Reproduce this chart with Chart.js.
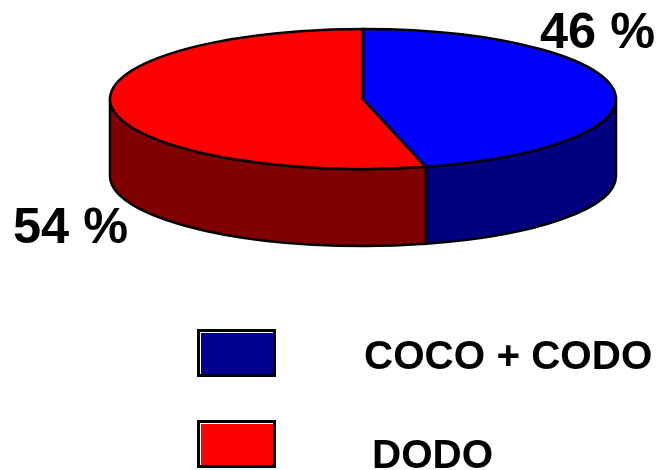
<!DOCTYPE html>
<html>
<head>
<meta charset="utf-8">
<title>COCO + CODO / DODO</title>
<script src="https://cdn.jsdelivr.net/npm/chart.js@4"></script>
<style>
    html, body { margin: 0; padding: 0; background: #fff; }
    #wrap { position: relative; width: 658px; height: 470px; }
    canvas { display: block; }
</style>
</head>
<body>
<div id="wrap"><canvas id="grafico" width="658" height="470"></canvas></div>
<script>
const categorias = ['COCO + CODO', 'DODO'];
const valores = [46, 54];
const coresTopo = ['#0000ff', '#ff0000'];
const coresLado = ['#000080', '#800000'];
const coresLegenda = ['#000090', '#ff0000'];

// Elipse do topo e altura da lateral
const elipse = { x: 363, y: 99, rx: 253, ry: 70, altura: 77 };
const posRotulos = [{ x: 540, y: 48 }, { x: 13, y: 243 }];
const posLegenda = [{ x: 198, y: 330, tx: 364, ty: 369 }, { x: 198, y: 421, tx: 372, ty: 468 }];

// Achata o disco do pie em perspectiva, desenha a lateral e os textos
const pizza3d = {
    id: 'pizza3d',
    beforeDatasetsDraw(chart) {
        const ctx = chart.ctx;
        const arcos = chart.getDatasetMeta(0).data;

        // Só a metade da frente tem lateral visível
        arcos.forEach((arco, i) => {
            const ini = Math.max(arco.startAngle, 0);
            const fim = Math.min(arco.endAngle, Math.PI);
            if (fim <= ini) return;
            ctx.beginPath();
            ctx.ellipse(elipse.x, elipse.y, elipse.rx, elipse.ry, 0, ini, fim);
            ctx.ellipse(elipse.x, elipse.y + elipse.altura, elipse.rx, elipse.ry, 0, fim, ini, true);
            ctx.closePath();
            ctx.fillStyle = coresLado[i];
            ctx.fill();
            ctx.lineWidth = 2.5;
            ctx.strokeStyle = '#000';
            ctx.stroke();
        });

        const a = arcos[0];
        ctx.save();
        ctx.translate(elipse.x, elipse.y);
        ctx.scale(elipse.rx / a.outerRadius, elipse.ry / a.outerRadius);
        ctx.translate(-a.x, -a.y);
    },
    afterDatasetsDraw(chart) {
        const ctx = chart.ctx;
        ctx.restore();

        // Contorno depois do restore para a linha não ficar deformada
        chart.getDatasetMeta(0).data.forEach(arco => {
            ctx.beginPath();
            ctx.moveTo(elipse.x, elipse.y);
            ctx.ellipse(elipse.x, elipse.y, elipse.rx, elipse.ry, 0, arco.startAngle, arco.endAngle);
            ctx.closePath();
            ctx.lineWidth = 2.5;
            ctx.strokeStyle = '#000';
            ctx.stroke();
        });

        ctx.fillStyle = '#000';
        ctx.textAlign = 'left';
        ctx.textBaseline = 'alphabetic';
        ctx.font = 'bold 50.5px "Liberation Sans"';
        valores.forEach((v, i) => ctx.fillText(v + ' %', posRotulos[i].x, posRotulos[i].y));

        categorias.forEach((nome, i) => {
            const p = posLegenda[i];
            ctx.fillStyle = '#000';
            ctx.fillRect(p.x - 1, p.y - 1, 79, 48);
            ctx.fillStyle = '#fff';
            ctx.fillRect(p.x + 2, p.y + 2, 73, 42);
            ctx.fillStyle = coresLegenda[i];
            ctx.fillRect(p.x + 3, p.y + 3, 72, 41);
            ctx.fillStyle = '#000';
            ctx.font = 'bold 40.4px "Liberation Sans"';
            ctx.fillText(nome, p.tx, p.ty);
        });
    }
};

new Chart(document.getElementById('grafico'), {
    type: 'pie',
    data: {
        labels: categorias,
        datasets: [{
            data: valores,
            backgroundColor: coresTopo,
            borderWidth: 0
        }]
    },
    options: {
        responsive: false,
        animation: false,
        events: [],
        layout: { padding: 0 },
        plugins: {
            legend: { display: false },
            tooltip: { enabled: false }
        }
    },
    plugins: [pizza3d]
});
</script>
</body>
</html>
